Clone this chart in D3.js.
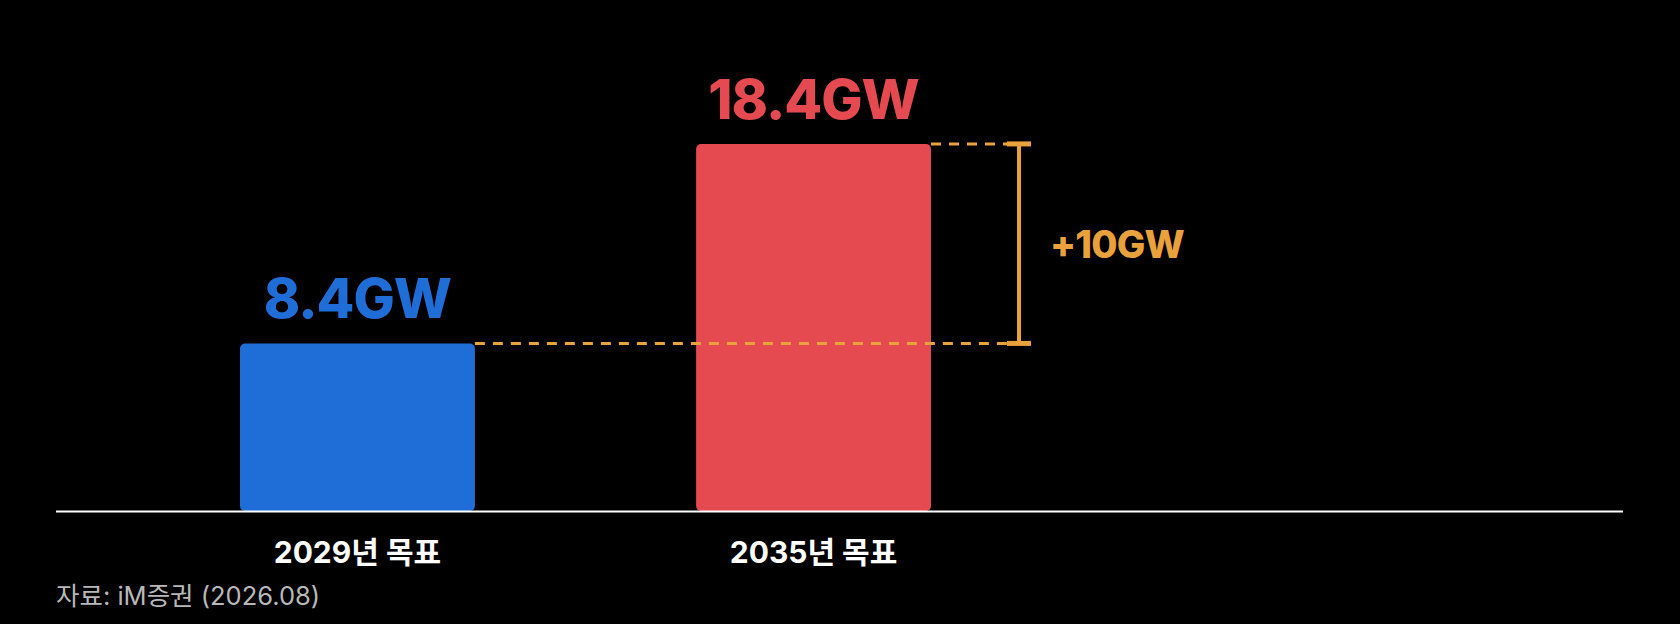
<!doctype html>
<html>
<head>
<meta charset="utf-8"/>
<script src="https://d3js.org/d3.v7.min.js"></script>
<style>
	html, body { margin: 0; padding: 0; background: #000; }
	svg { display: block; }
	text { font-family: "Inter", "Noto Sans CJK KR", sans-serif; }
</style>
</head>
<body>
<svg id="chart"></svg>
<script>
	var categories = ["2029년 목표", "2035년 목표"];
	var values = [8.4, 18.4];
	var valueLabels = ["8.4GW", "18.4GW"];
	var barColors = ["#1f6dd6", "#e54a50"];
	var sourceText = "자료: iM증권 (2026.08)";

	var width = 1680, height = 624;
	var accent = "#e9a23b";

	var svg = d3.select("#chart")
		.attr("width", width)
		.attr("height", height);

	svg.append("rect")
		.attr("width", width)
		.attr("height", height)
		.attr("fill", "#000");

	// scales
	var x = d3.scaleBand()
		.domain(categories)
		.range([240, 931])
		.paddingInner(0.485)
		.paddingOuter(0);

	var y = d3.scaleLinear()
		.domain([0, 20])
		.range([511, 112]);

	// bars
	svg.selectAll(".bar")
		.data(values)
		.enter()
		.append("rect")
		.attr("class", "bar")
		.attr("x", (d, i) => x(categories[i]))
		.attr("y", d => y(d))
		.attr("width", x.bandwidth())
		.attr("height", d => y(0) - y(d))
		.attr("rx", 5)
		.attr("fill", (d, i) => barColors[i]);

	// value labels over bars
	svg.selectAll(".val")
		.data(values)
		.enter()
		.append("text")
		.attr("class", "val")
		.attr("x", (d, i) => x(categories[i]) + x.bandwidth() / 2)
		.attr("y", d => y(d) - 25)
		.attr("text-anchor", "middle")
		.attr("font-size", 55)
		.attr("font-weight", 800)
		.attr("letter-spacing", -1)
		.attr("fill", (d, i) => barColors[i])
		.text((d, i) => valueLabels[i]);

	// baseline
	svg.append("line")
		.attr("x1", 56)
		.attr("x2", 1623)
		.attr("y1", y(0) + 0.5)
		.attr("y2", y(0) + 0.5)
		.attr("stroke", "#fff")
		.attr("stroke-width", 2);

	// category labels
	svg.selectAll(".cat")
		.data(categories)
		.enter()
		.append("text")
		.attr("class", "cat")
		.attr("x", d => x(d) + x.bandwidth() / 2)
		.attr("y", 563)
		.attr("text-anchor", "middle")
		.attr("font-size", 30)
		.attr("font-weight", 700)
		.attr("fill", "#fff")
		.text(d => d);

	// difference bracket
	var bx = 1019;
	var g = svg.append("g");

	g.selectAll(".guide")
		.data(values)
		.enter()
		.append("line")
		.attr("class", "guide")
		.attr("x1", (d, i) => x(categories[i]) + x.bandwidth())
		.attr("x2", bx - 10)
		.attr("y1", d => y(d))
		.attr("y2", d => y(d))
		.attr("stroke", accent)
		.attr("stroke-width", 3)
		.attr("stroke-dasharray", "10,8");

	g.append("line")
		.attr("x1", bx).attr("x2", bx)
		.attr("y1", y(values[1])).attr("y2", y(values[0]))
		.attr("stroke", accent)
		.attr("stroke-width", 4);

	g.selectAll(".cap")
		.data(values)
		.enter()
		.append("line")
		.attr("class", "cap")
		.attr("x1", bx - 12).attr("x2", bx + 12)
		.attr("y1", d => y(d)).attr("y2", d => y(d))
		.attr("stroke", accent)
		.attr("stroke-width", 5);

	g.append("text")
		.attr("x", 1050)
		.attr("y", (y(values[0]) + y(values[1])) / 2 + 14)
		.attr("font-size", 38)
		.attr("font-weight", 800)
		.attr("letter-spacing", -0.8)
		.attr("fill", accent)
		.text("+" + d3.format("d")(values[1] - values[0]) + "GW");

	// source note
	svg.append("text")
		.attr("x", 56)
		.attr("y", 605)
		.attr("font-size", 25.5)
		.attr("fill", "#b8b8b8")
		.text(sourceText);
</script>
</body>
</html>
